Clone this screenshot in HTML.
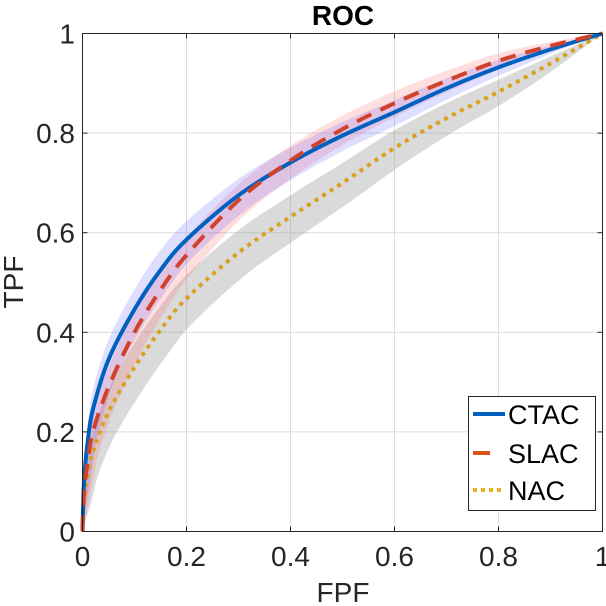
<!DOCTYPE html>
<html><head><meta charset="utf-8">
<style>
html,body{margin:0;padding:0;background:#fff;}
svg{display:block;font-family:"Liberation Sans",sans-serif;}
</style></head>
<body>
<svg id="chart" width="606" height="606" viewBox="0 0 606 606">
  <rect x="0" y="0" width="606" height="606" fill="#fff"/>
  <g id="grid"></g>
  <g id="bands"></g>
  <g id="lines"></g>
  <g id="axes"></g>
  <text x="343" y="25" text-anchor="middle" font-size="28" font-weight="bold">ROC</text>
  <text x="343" y="602" text-anchor="middle" font-size="28" fill="#262626">FPF</text>
  <text transform="translate(23,282) rotate(-90)" text-anchor="middle" font-size="28" fill="#262626">TPF</text>
  <g>
    <rect x="468.5" y="396.5" width="127" height="114" fill="#fff" stroke="#262626" stroke-width="1"/>
    <g>
      <line x1="473" y1="414" x2="505" y2="414" stroke="#0060bf" stroke-width="4"/>
      <text x="508" y="424" font-size="27" fill="#000">CTAC</text>
    </g>
    <g>
      <line x1="473" y1="453" x2="490" y2="453" stroke="#d9531a" stroke-width="4"/>
      <text x="508" y="463" font-size="27" fill="#000">SLAC</text>
    </g>
    <g>
      <line x1="473" y1="490" x2="505" y2="490" stroke="#edb120" stroke-width="4" stroke-dasharray="4,4"/>
      <text x="508" y="500" font-size="27" fill="#000">NAC</text>
    </g>
  </g>
</svg>
<script>
const fpr = [0, 0.002, 0.005, 0.01, 0.02, 0.05, 0.1, 0.15, 0.2, 0.3, 0.4, 0.5, 0.6, 0.7, 0.8, 0.9, 1];
const ctacTpr = [0, 0.08, 0.13, 0.18, 0.245, 0.345, 0.446, 0.525, 0.586, 0.675, 0.741, 0.795, 0.842, 0.89, 0.932, 0.968, 1];
const slacTpr = [0, 0.06, 0.1, 0.14, 0.2, 0.29, 0.4, 0.485, 0.555, 0.665, 0.745, 0.808, 0.86, 0.905, 0.945, 0.975, 1];
const nacTpr  = [0, 0.05, 0.08, 0.11, 0.16, 0.24, 0.33, 0.405, 0.468, 0.56, 0.632, 0.7, 0.77, 0.83, 0.883, 0.94, 1];
const ctacBand = [0, 0.02, 0.03, 0.035, 0.04, 0.04, 0.04, 0.04, 0.037, 0.033, 0.03, 0.027, 0.024, 0.02, 0.015, 0.008, 0];
const slacBand = [0, 0.02, 0.03, 0.035, 0.04, 0.04, 0.04, 0.038, 0.035, 0.032, 0.03, 0.027, 0.024, 0.02, 0.015, 0.008, 0];
const nacBand  = [0, 0.02, 0.03, 0.035, 0.04, 0.045, 0.048, 0.048, 0.047, 0.045, 0.043, 0.04, 0.036, 0.03, 0.024, 0.014, 0];
const ticks = [0, 0.2, 0.4, 0.6, 0.8, 1];
const tickLabels = ["0", "0.2", "0.4", "0.6", "0.8", "1"];

const X0 = 82.5, X1 = 602.5, Y0 = 531.5, Y1 = 33.5;
const sx = v => X0 + v * (X1 - X0);
const sy = v => Y0 - v * (Y0 - Y1);
const NS = "http://www.w3.org/2000/svg";
function mk(tag, attrs, parent) {
  const e = document.createElementNS(NS, tag);
  for (const k in attrs) e.setAttribute(k, attrs[k]);
  parent.appendChild(e);
  return e;
}
const grid = document.getElementById('grid');
const axes = document.getElementById('axes');
const bands = document.getElementById('bands');
const lines = document.getElementById('lines');

ticks.forEach((t, i) => {
  if (t > 0 && t < 1) {
    const gv = mk('line', {x1: sx(t), y1: Y0, x2: sx(t), y2: Y1, stroke: '#dcdcdc', 'stroke-width': 1}, grid);
    
    
    const gh = mk('line', {x1: X0, y1: sy(t), x2: X1, y2: sy(t), stroke: '#dcdcdc', 'stroke-width': 1}, grid);
    
    
  }
  const xl = mk('text', {x: sx(t), y: 566, 'text-anchor': 'middle', 'font-size': 28, fill: '#262626'}, axes);
  xl.textContent = tickLabels[i];
  
  
  const yl = mk('text', {x: 75, y: sy(t) + 10, 'text-anchor': 'end', 'font-size': 28, fill: '#262626'}, axes);
  yl.textContent = tickLabels[i];
  
  
  mk('line', {x1: sx(t), y1: Y0, x2: sx(t), y2: Y0 - 5, stroke: '#262626'}, axes);
  mk('line', {x1: sx(t), y1: Y1, x2: sx(t), y2: Y1 + 5, stroke: '#262626'}, axes);
  mk('line', {x1: X0, y1: sy(t), x2: X0 + 5, y2: sy(t), stroke: '#262626'}, axes);
  mk('line', {x1: X1, y1: sy(t), x2: X1 - 5, y2: sy(t), stroke: '#262626'}, axes);
});
const frame = mk('rect', {x: X0, y: Y1, width: X1 - X0, height: Y0 - Y1, fill: 'none', stroke: '#262626', 'stroke-width': 1}, axes);



// Catmull-Rom smoothing through points
function smooth(pts, start) {
  let d = start ? 'M' + pts[0][0].toFixed(1) + ',' + pts[0][1].toFixed(1) : 'L' + pts[0][0].toFixed(1) + ',' + pts[0][1].toFixed(1);
  for (let i = 0; i < pts.length - 1; i++) {
    const p0 = pts[Math.max(0, i - 1)], p1 = pts[i], p2 = pts[i + 1], p3 = pts[Math.min(pts.length - 1, i + 2)];
    const c1 = [p1[0] + (p2[0] - p0[0]) / 6, p1[1] + (p2[1] - p0[1]) / 6];
    const c2 = [p2[0] - (p3[0] - p1[0]) / 6, p2[1] - (p3[1] - p1[1]) / 6];
    d += 'C' + c1[0].toFixed(1) + ',' + c1[1].toFixed(1) + ' ' + c2[0].toFixed(1) + ',' + c2[1].toFixed(1) + ' ' + p2[0].toFixed(1) + ',' + p2[1].toFixed(1);
  }
  return d;
}
function bandPath(tpr, w) {
  const up = fpr.map((x, i) => [sx(x), sy(Math.min(1, tpr[i] + w[i]))]);
  const lo = fpr.map((x, i) => [sx(Math.min(1, x + w[i] * 0.3)), sy(Math.max(0, tpr[i] - w[i]))]).reverse();
  return smooth(up, true) + smooth(lo, false) + 'Z';
}
function linePath(tpr) {
  return smooth(fpr.map((x, i) => [sx(x), sy(tpr[i])]), true);
}
const b1 = mk('path', {d: bandPath(nacTpr, nacBand), fill: 'rgba(150,150,150,0.35)'}, bands);


const b2 = mk('path', {d: bandPath(slacTpr, slacBand), fill: 'rgba(255,90,90,0.2)'}, bands);


const b3 = mk('path', {d: bandPath(ctacTpr, ctacBand), fill: 'rgba(90,90,255,0.2)'}, bands);



const l1 = mk('path', {d: linePath(nacTpr), fill: 'none', stroke: '#d9a020', 'stroke-width': 4, 'stroke-dasharray': '4,5'}, lines);


const l2 = mk('path', {d: linePath(ctacTpr), fill: 'none', stroke: '#0060bf', 'stroke-width': 4}, lines);


const l3 = mk('path', {d: linePath(slacTpr), fill: 'none', stroke: '#d2422a', 'stroke-width': 4, 'stroke-dasharray': '16,10'}, lines);


</script>
</body></html>
